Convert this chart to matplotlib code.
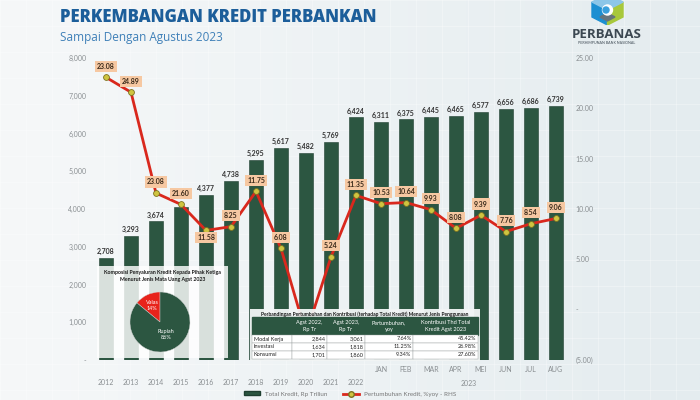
import numpy as np
import matplotlib
matplotlib.use("Agg")
import matplotlib.pyplot as plt
from matplotlib.patches import Rectangle, Polygon, Circle, Patch
from matplotlib.lines import Line2D
from matplotlib.colors import LinearSegmentedColormap

plt.rcParams['font.family'] = ['Lato', 'DejaVu Sans']

# data
years = ['2012', '2013', '2014', '2015', '2016', '2017', '2018', '2019', '2020', '2021', '2022']
months = ['JAN', 'FEB', 'MAR', 'APR', 'MEI', 'JUN', 'JUL', 'AUG']
credit = [2708, 3293, 3674, 4057, 4377, 4738, 5295, 5617, 5482, 5769, 6424,
          6311, 6375, 6445, 6465, 6577, 6656, 6686, 6739]
growth = [23.08, 21.60, 11.58, 10.45, 7.87, 8.25, 11.75, 6.08, -2.41, 5.24, 11.35,
          10.53, 10.64, 9.93, 8.08, 9.39, 7.76, 8.54, 9.06]
# labels as printed on the original (2020 label sits behind the table)
growth_labels = ['23.08', '24.89', '23.08', '21.60', '11.58', '8.25', '11.75', '6.08', '', '5.24', '11.35',
                 '10.53', '10.64', '9.93', '8.08', '9.39', '7.76', '8.54', '9.06']

currency = ['Valas', 'Rupiah']
share = [14, 86]

usage = ['Modal Kerja', 'Investasi', 'Konsumsi']
agst2022 = [2844, 1634, 1701]
agst2023 = [3061, 1818, 1860]
yoy = [7.64, 11.25, 9.34]
contrib = [45.42, 26.98, 27.60]
table_headers = ['', 'Agst 2022,\nRp Tr', 'Agst 2023,\nRp Tr', 'Pertumbuhan,\nyoy', 'Kontribusi Thd Total\nKredit Agst 2023']

GREEN = '#2c5641'
RED = '#d9281d'
W, H = 700, 400


def px_box(x0, y0, x1, y1):
    # pixel box (top-left origin) -> figure fraction rect
    return [x0 / W, 1 - y1 / H, (x1 - x0) / W, (y1 - y0) / H]


fig = plt.figure(figsize=(7, 4), dpi=100)

# background gradient + faint grid
bg = fig.add_axes([0, 0, 1, 1], zorder=-10)
cmap = LinearSegmentedColormap.from_list('bg', ['#f6f8f9', '#e4ecef'])
grad = np.linspace(0, 1, 256).reshape(1, -1)
bg.imshow(grad, extent=[0, W, H, 0], aspect='auto', cmap=cmap)
for gx in np.arange(0, W, 26):
    bg.axvline(gx, color='white', lw=0.6, alpha=0.35)
for gy in np.arange(0, H, 26):
    bg.axhline(gy, color='white', lw=0.6, alpha=0.35)
bg.set_xlim(0, W)
bg.set_ylim(H, 0)
bg.axis('off')

# title
fig.text(60 / W, 1 - 17 / H, 'PERKEMBANGAN KREDIT PERBANKAN', fontsize=12.1, fontweight='heavy',
         color='#1c5e9a', va='center', ha='left', family=['Open Sans', 'DejaVu Sans'])
fig.text(60 / W, 1 - 37 / H, 'Sampai Dengan Agustus 2023', fontsize=8.5,
         color='#3f80b8', va='center', ha='left', family=['Open Sans', 'DejaVu Sans'])

# logo
lg = fig.add_axes(px_box(588, 0, 627, 25))
lg.set_xlim(0, 39)
lg.set_ylim(25, 0)
lg.add_patch(Polygon([[4, 2], [19.5, 10], [19.5, 25], [4, 17]], color='#1c8fd2'))
lg.add_patch(Polygon([[35, 2], [19.5, 10], [19.5, 25], [35, 17]], color='#a8c83b'))
lg.add_patch(Polygon([[4, 2], [19.5, -6], [35, 2], [19.5, 10]], color='#8cc6e8'))
lg.add_patch(Polygon([[12, 17], [19.5, 21], [27, 17], [19.5, 13]], color='#66757c'))
lg.add_patch(Circle((19.5, 10), 5, color='white'))
lg.add_patch(Circle((18, 10), 3, color='#3aa0dc'))
lg.axis('off')
fig.text(607 / W, 1 - 34 / H, 'PERBANAS', fontsize=9.5, fontweight='bold', color='#3c4852',
         ha='center', va='center', family=['Open Sans', 'DejaVu Sans'])
fig.text(607 / W, 1 - 43 / H, 'PERHIMPUNAN BANK NASIONAL', fontsize=2.6, color='#3c4852',
         ha='center', va='center')

# main chart
ax = fig.add_axes(px_box(92, 58, 570, 360), zorder=1)
ax.set_facecolor('none')
x = np.arange(len(credit))
bars = ax.bar(x, credit, width=0.56, color=GREEN, edgecolor='#1f3f30', linewidth=0.4, zorder=2)
# 2015 value label is covered by the growth label in the original
bar_text = [f'{v:,}' for v in credit]
bar_text[years.index('2015')] = ''
ax.bar_label(bars, labels=bar_text, padding=2, fontsize=5, color='#333333', fontweight='bold')
ax.set_xlim(-0.56, len(credit) - 0.44)
ax.set_ylim(0, 8000)
ax.set_yticks(range(0, 8001, 1000))
ax.set_yticklabels(['-'] + [f'{v:,}' for v in range(1000, 8001, 1000)])
ax.set_xticks(x)
ax.set_xticklabels(['\n' + y for y in years] + months)
for lab in ax.get_xticklabels():
    lab.set_linespacing(2.1)
ax.tick_params(axis='both', length=0, labelsize=5, labelcolor='#8a8f92', pad=4)
ax.text(np.mean(x[len(years):]), -23 / 302, '2023', transform=ax.get_xaxis_transform(),
        ha='center', va='center', fontsize=5, color='#8a8f92')
for s in ax.spines.values():
    s.set_visible(False)

ax2 = ax.twinx()
ax2.plot(x, growth, color=RED, lw=2, marker='o', markersize=4.2,
         markerfacecolor='#cfc440', markeredgecolor='#7b7222', markeredgewidth=0.6, zorder=3)
for i, (g, lab) in enumerate(zip(growth, growth_labels)):
    if not lab:
        continue
    dy = -5 if years[i:i + 1] == ['2016'] else 8
    ax2.annotate(lab, (i, g), xytext=(0, dy), textcoords='offset points', ha='center', va='center',
                 fontsize=5, fontweight='bold', color='#3a2a1a', zorder=4,
                 bbox=dict(boxstyle='square,pad=0.3', fc='#f6c8a2', ec='none'))
ax2.set_ylim(-5, 25)
ax2.set_yticks(range(-5, 26, 5))
ax2.set_yticklabels(['(5.00)', '-'] + [f'{v:.2f}' for v in range(5, 26, 5)])
ax2.tick_params(axis='y', length=0, labelsize=5, labelcolor='#8a8f92', pad=4)
for s in ax2.spines.values():
    s.set_visible(False)

# pie panel
pa = fig.add_axes(px_box(97, 266, 228, 358), zorder=5)
pa.set_facecolor((1, 1, 1, 0.82))
wedges, _ = pa.pie(share, colors=['#e8231b', GREEN], startangle=90, center=(63, 36), radius=30,
                   frame=True, wedgeprops=dict(edgecolor='#d0d0d0', linewidth=0.3))
pa.set_xlim(0, 131)
pa.set_ylim(0, 92)
pa.set_aspect('auto')
dist = [0.6, 0.45]
for w, name, val, d in zip(wedges, currency, share, dist):
    ang = np.deg2rad((w.theta1 + w.theta2) / 2)
    pa.text(63 + d * 30 * np.cos(ang), 36 + d * 30 * np.sin(ang), f'{name}\n{val}%',
            ha='center', va='center', fontsize=4, color='white', linespacing=1.3)
pa.text(65.5, 82, 'Komposisi Penyaluran Kredit Kepada Pihak Ketiga\nMenurut Jenis Mata Uang Agst 2023',
        ha='center', va='center', fontsize=3.8, fontweight='bold', color='#1a1a1a', linespacing=1.5)
pa.set_xticks([])
pa.set_yticks([])
for s in pa.spines.values():
    s.set_visible(False)

# table
ta = fig.add_axes(px_box(250, 309, 480, 361), zorder=5)
ta.set_facecolor((0.95, 0.96, 0.96, 0.95))
ta.set_xlim(0, 230)
ta.set_ylim(0, 52)
col_w = [40, 35, 38, 48, 65]
col_x = np.concatenate([[2], 2 + np.cumsum(col_w)])
ta.text(115, 47, 'Perbandingan Pertumbuhan dan Kontribusi (terhadap Total Kredit) Menurut Jenis Penggunaan',
        ha='center', va='center', fontsize=3.6, fontweight='bold', color='#1a1a1a')
ta.add_patch(Rectangle((col_x[0], 26), col_x[-1] - col_x[0], 18, color=GREEN))
for j, h in enumerate(table_headers):
    ta.text((col_x[j] + col_x[j + 1]) / 2, 35, h, ha='center', va='center', fontsize=4,
            color='white', linespacing=1.5)
rows = list(zip(usage, [f'{v:,}' for v in agst2022], [f'{v:,}' for v in agst2023],
                [f'{v:.2f}%' for v in yoy], [f'{v:.2f}%' for v in contrib]))
for r, row in enumerate(rows):
    y0 = 26 - 8 * (r + 1)
    for j, val in enumerate(row):
        ta.add_patch(Rectangle((col_x[j], y0), col_w[j], 8, fc='white', ec='#9aa0a0', lw=0.3))
        if j == 0:
            ta.text(col_x[j] + 1.5, y0 + 4, val, ha='left', va='center', fontsize=4, color='#222222')
        else:
            ta.text(col_x[j + 1] - 1.5, y0 + 4, val, ha='right', va='center', fontsize=4, color='#222222')
ta.set_xticks([])
ta.set_yticks([])
for s in ta.spines.values():
    s.set_visible(False)

# legend
handles = [Patch(facecolor=GREEN, edgecolor='#1f3f30', label='Total Kredit, Rp Triliun'),
           Line2D([], [], color=RED, lw=2, marker='o', markersize=4, markerfacecolor='#cfc440',
                  markeredgecolor='#7b7222', label='Pertumbuhan Kredit, %yoy - RHS')]
fig.legend(handles=handles, loc='center', bbox_to_anchor=(0.5, 1 - 394 / H), ncol=2, frameon=False,
           fontsize=4.5, labelcolor='#777777', handlelength=2.6, handleheight=0.6, columnspacing=2.5)

fig.savefig('out.png', dpi=100)
